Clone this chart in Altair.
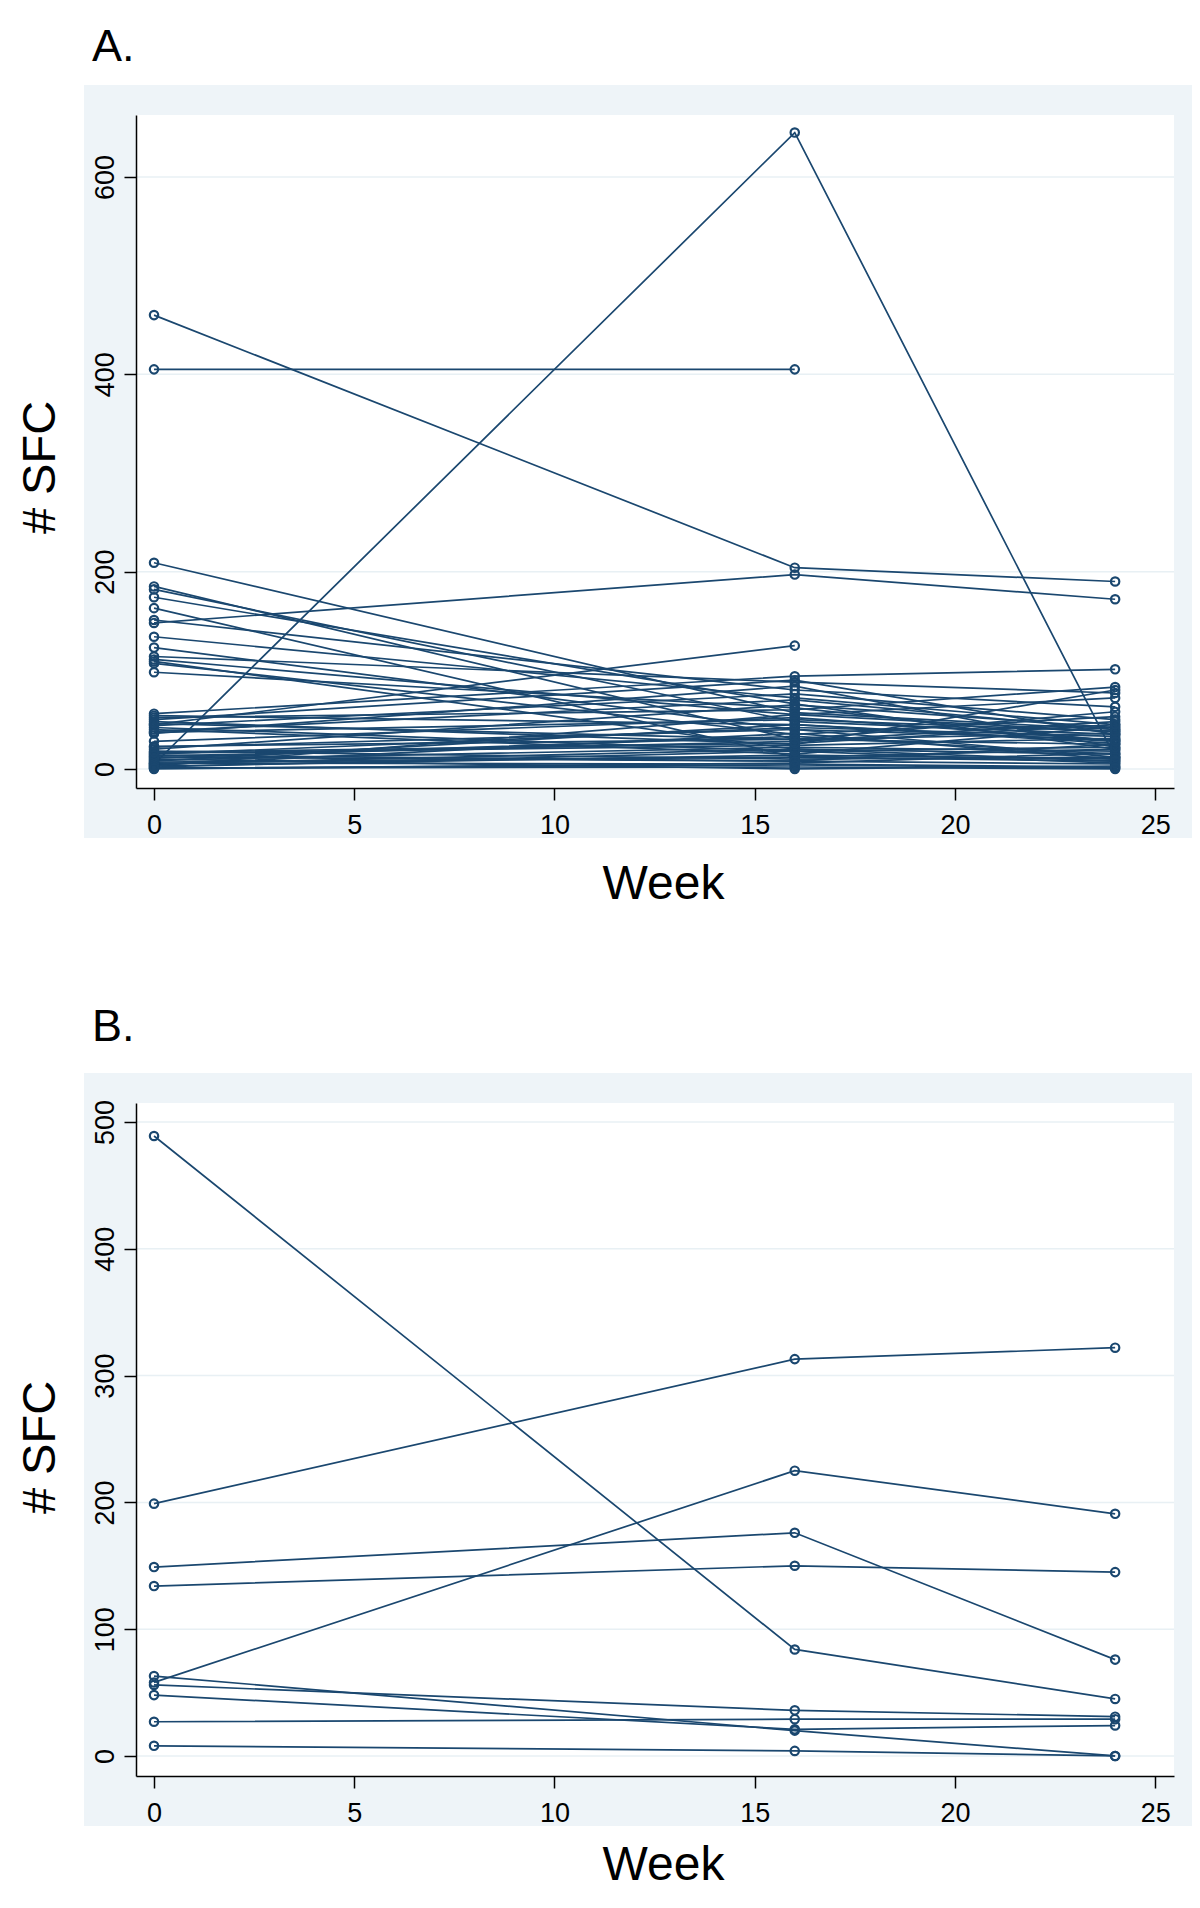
import altair as alt
import pandas as pd

FONT = "Liberation Sans"
NAVY = "#1a476f"
BAND = "#eef4f8"
GRID = "#e8f0f4"

weeks = [0, 16, 24]

# Panel A: SFC per subject at weeks 0, 16, 24 (None = not measured)
a_week0 = [460, 405, 5, 148, 45, 209, 185, 182, 174, 163, 151, 134, 123, 114, 111,
           109, 107, 98, 56, 52, 48, 44, 40, 37, 36, 23, 20, 18, 15, 13,
           12, 10, 9, 8, 6, 4, 3, 2, 1, 0, 50, 28, 38, 16, 7,
           22, 14, 11, 5, 3, 42, 46, 54, 1, 17]
a_week16 = [204, 405, 645, 197, 125, 57, 30, 48, 66, 12, 80, 72, 40, 88, 55,
            20, 35, 62, 94, 60, 25, 76, 15, 50, 84, 30, 65, 10, 42, 28,
            8, 0, 22, 45, 5, 36, 14, 18, 2, 6, 90, 52, 70, 24, 12,
            40, 8, 33, 20, 55, 18, 30, 45, 4, 26]
a_week24 = [190, None, 12, 172, None, 40, 25, 35, 20, 8, 63, 45, 30, 77, 72,
            15, 53, 28, 101, 83, 80, 50, 43, 38, 22, 36, 42, 12, 33, 48,
            5, 3, 18, 26, 2, 10, 10, 6, 0, 16, 35, 29, 40, 31, 20,
            12, 25, 15, 8, 38, 22, 58, 28, 1, 45]

# Panel B
b_week0 = [489, 199, 58, 149, 134, 56, 63, 48, 27, 8]
b_week16 = [84, 313, 225, 176, 150, 36, 20, 21, 29, 4]
b_week24 = [45, 322, 191, 76, 145, 31, 0, 24, 29, 0]

a_yticks = [0, 200, 400, 600]
b_yticks = [0, 100, 200, 300, 400, 500]
x_ticks = [0, 5, 10, 15, 20, 25]


def to_long(w0, w16, w24, prefix):
    rows = []
    for i, vals in enumerate(zip(w0, w16, w24)):
        for wk, v in zip(weeks, vals):
            if v is not None:
                rows.append({"subject": f"{prefix}{i}", "week": wk, "sfc": v})
    return pd.DataFrame(rows)


W, H = 1038, 673


def panel(df, letter, ydom, yticks, ytitle_y, xtitle_y, letter_y):
    xs = alt.Scale(domain=[-0.45, 25.47], nice=False, zero=False)
    ys = alt.Scale(domain=ydom, nice=False, zero=False)
    xaxis = alt.Axis(values=x_ticks, format="d", title="Week", titleFont=FONT,
                     titleFontSize=48, titleFontWeight="normal", titleColor="black",
                     titleX=527, titleY=xtitle_y, titleAlign="center",
                     titleBaseline="alphabetic", labelFont=FONT, labelFontSize=27,
                     labelColor="black", labelPadding=12, tickSize=12,
                     tickColor="black", tickWidth=1.5, domainColor="black",
                     domainWidth=1.5, grid=False, zindex=1, labelFlush=False)
    yaxis = alt.Axis(values=yticks, format="d", title="# SFC", titleFont=FONT,
                     titleFontSize=47, titleFontWeight="normal", titleColor="black",
                     titleAngle=270, titleX=-82, titleY=ytitle_y, titleAlign="center",
                     titleBaseline="alphabetic", labelFont=FONT, labelFontSize=27,
                     labelColor="black", labelAngle=270, labelAlign="center",
                     labelBaseline="alphabetic", labelPadding=11, tickSize=12,
                     tickColor="black", tickWidth=1.5, domainColor="black",
                     domainWidth=1.5, grid=False, zindex=1, labelFlush=False)

    one = pd.DataFrame({"k": [0]})
    band = alt.Chart(one).mark_rect(color=BAND).encode(
        x=alt.value(-52), x2=alt.value(W + 18), y=alt.value(-30), y2=alt.value(H + 50))
    white = alt.Chart(one).mark_rect(color="white").encode(
        x=alt.value(0), x2=alt.value(W), y=alt.value(0), y2=alt.value(H))
    grid = alt.Chart(pd.DataFrame({"sfc": yticks})).mark_rule(
        color=GRID, strokeWidth=1.5).encode(y=alt.Y("sfc:Q", scale=ys, axis=yaxis))
    base = alt.Chart(df)
    lines = base.mark_line(color=NAVY, strokeWidth=1.7).encode(
        x=alt.X("week:Q", scale=xs, axis=xaxis),
        y=alt.Y("sfc:Q", scale=ys, axis=yaxis),
        detail="subject:N", order="week:Q")
    pts = base.mark_point(shape="circle", filled=False, color=NAVY, size=70,
                          strokeWidth=2.2, opacity=1).encode(
        x=alt.X("week:Q", scale=xs, axis=xaxis),
        y=alt.Y("sfc:Q", scale=ys, axis=yaxis))
    lab = alt.Chart(pd.DataFrame({"t": [letter]})).mark_text(
        align="left", baseline="alphabetic", fontSize=45, font=FONT,
        color="black").encode(text="t:N", x=alt.value(-44), y=alt.value(letter_y))
    return alt.layer(band, white, grid, lines, pts, lab).properties(width=W, height=H)


pa = panel(to_long(a_week0, a_week16, a_week24, "a"), "A.", [-19.3, 662.8],
           a_yticks, 352, 110, -54)
pb = panel(to_long(b_week0, b_week16, b_week24, "b"), "B.", [-15.8, 515],
           b_yticks, 344, 103, -62)

chart = alt.vconcat(pa, pb, spacing=97).properties(
    padding={"left": 8, "top": 17, "right": 0, "bottom": 0}
).configure_view(strokeWidth=0)

chart.save("out.html", embed_options={"renderer": "svg", "actions": False})
